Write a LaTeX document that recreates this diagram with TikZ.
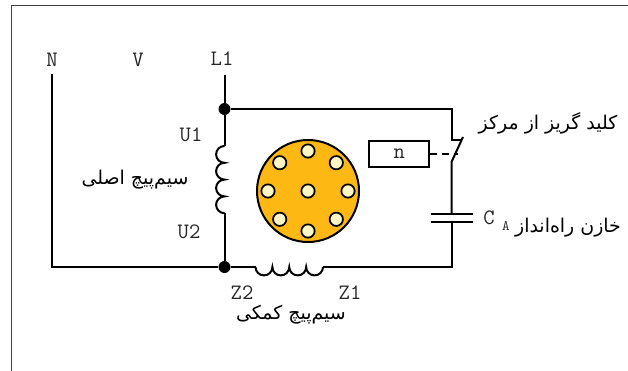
\documentclass[tikz,border=0pt]{standalone}
\usepackage{fontspec}
\newfontfamily\persianfont[Script=Arabic]{DejaVu Sans}
\TeXXeTstate=1
\definecolor{rotorfill}{RGB}{253,184,19}
\definecolor{slotfill}{RGB}{255,246,196}
\tikzset{
  wire/.style={line width=1.5pt, line join=miter},
  pin/.style={font=\ttfamily\fontsize{16.5}{18}\selectfont, text=black!85, inner sep=0pt},
  faname/.style={font=\persianfont\fontsize{14.2}{16}\selectfont, inner sep=0pt},
  junction/.style={circle, fill=black, inner sep=0pt, minimum size=9pt},
  slot/.style={circle, draw=black, line width=1.3pt, fill=slotfill, inner sep=0pt, minimum size=10pt},
}
\begin{document}
\begin{tikzpicture}[
  x=0.75pt, y=-0.75pt, % reference pixel size
  line join=round
]
  % ---- page and frame ----
  \useasboundingbox (0,0) rectangle (628,371);
  \draw[black!75, line width=0.9pt] (11.5,371) -- (11.5,5.5) -- (628,5.5);

  % ---- terminals ----
  \node[pin] (N) at (52,60) {N};
  \node[pin] (V) at (138,60) {V};
  \node[pin] (L1) at (222,59) {L1};
  \node[pin] (U1) at (191,135) {U1};
  \node[pin] (U2) at (189,232) {U2};
  \node[pin] (Z2) at (242,293) {Z2};
  \node[pin] (Z1) at (350,293) {Z1};

  % ---- junctions and corners ----
  \node[junction] (top) at (224.5,109) {};
  \node[junction] (bot) at (224.5,267) {};
  \coordinate (Nend) at (51.5,74);
  \coordinate (Ncorner) at (51.5,267);
  \coordinate (Lend) at (224.5,75);
  \coordinate (Rtop) at (451.5,109);
  \coordinate (Rbot) at (451.5,267);
  \coordinate (contact) at (451.5,140);
  \coordinate (hinge) at (451.5,162);
  \coordinate (bladeend) at (463,137);
  \coordinate (capA) at (451.5,214);
  \coordinate (capB) at (451.5,222);
  \coordinate (mainA) at (224.5,146);
  \coordinate (mainB) at (224.5,213);
  \coordinate (auxA) at (255.5,267);
  \coordinate (auxB) at (323,267);

  % ---- wires ----
  \draw[wire] (Nend) -- (Ncorner) -- (bot);
  \draw[wire] (Lend) -- (top) -- (mainA);
  \draw[wire] (mainB) -- (bot) -- (auxA);
  \draw[wire] (top) -- (Rtop) -- (contact) -- ++(9,0);
  \draw[wire] (auxB) -- (Rbot) -- (capB);
  \draw[wire] (capA) -- (hinge) -- (bladeend);

  % ---- coils: bumps of main winding point left, auxiliary ones down ----
  \draw[wire] (mainA)
    \foreach \k in {1,...,4} { arc[start angle=270, end angle=90, radius=8.4] };
  \draw[wire] (auxA)
    \foreach \k in {1,...,4} { arc[start angle=180, end angle=0, x radius=8.44, y radius=8.4] };

  % ---- capacitor ----
  \draw[wire] (431,214) -- (473,214);
  \draw[wire] (431,222) -- (473,222);
  \node[pin] (C) at (489,218) {C};
  \node[pin, font=\ttfamily\fontsize{11}{12}\selectfont] (A) at (506,226) {A};

  % ---- speed sensor ----
  \node[draw, wire, minimum width=59.5*0.75pt, minimum height=26*0.75pt, pin, inner sep=0pt] (n) at (399.2,153.7) {n};
  \draw[wire, dash pattern=on 5pt off 4pt] (n.east) -- (457.5,153.7);

  % ---- rotor ----
  \node[circle, draw=black, line width=1.5pt, fill=rotorfill, minimum size=102*0.75pt, inner sep=0pt] (rotor) at (308,191) {};
  \node[slot] (s0) at (rotor.center) {};
  \foreach \a in {0,45,...,315} {
    \node[slot] (s\a) at (308+40*cos \a, 191+40*sin \a) {};
  }

  % ---- persian names ----
  \node[faname] (fmain) at (135,180) {\beginR سیم‌پیچ اصلی\endR};
  \node[faname] (faux) at (291,315) {\beginR سیم‌پیچ کمکی\endR};
  \node[faname] (fswitch) at (548,123) {\beginR کلید گریز از مرکز\endR};
  \node[faname] (fcap) at (568,228) {\beginR خازن راه‌انداز\endR};
\end{tikzpicture}
\end{document}
